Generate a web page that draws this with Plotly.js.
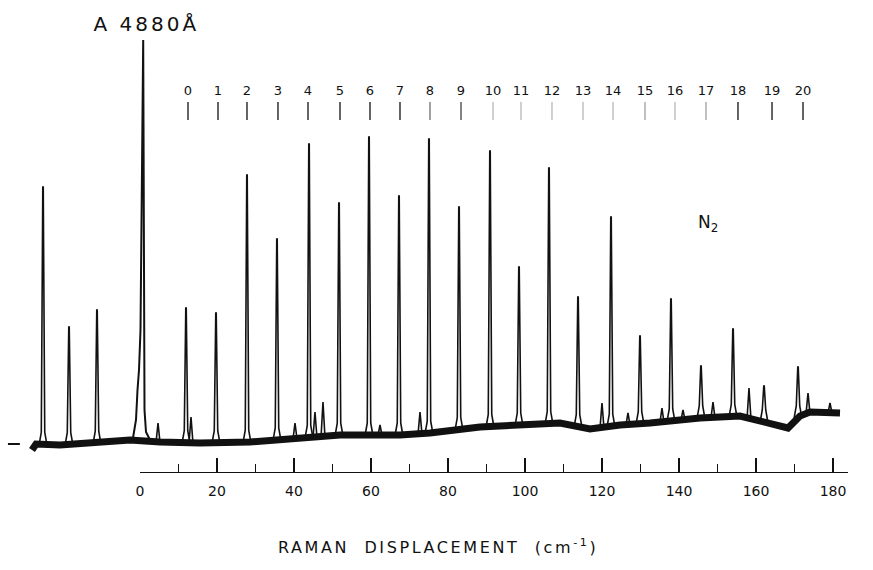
<!DOCTYPE html>
<html>
<head>
<meta charset="utf-8">
<script src="https://cdn.plot.ly/plotly-3.0.1.min.js"></script>
<style>
html,body{margin:0;padding:0;background:#fff;}
#chart{width:873px;height:570px;}
g.annotation[data-index="0"] text{letter-spacing:3px;}
g.annotation[data-index="2"] text{letter-spacing:2.6px;}
</style>
</head>
<body>
<div id="chart"></div>
<script>
// Raman displacement (cm^-1) and intensity (arbitrary units)
const baseX = [-28.05,-27.01,-20.78,-10.39,-2.60,5.19,15.58,28.57,41.56,51.95,67.53,75.32,88.31,98.70,109.09,116.88,124.68,132.47,145.45,155.84,168.31,171.43,174.03,181.82];
const baseY = [20,26,25,27,30,28,27,28,32,35,35,37,43,45,47,41,45,47,52,54,42,54,58,57];

const antiStokesX = [-25.19,-18.44,-11.17];
const antiStokesY = [283,143,160];

const stokesJ = ['0','1','2','3','4','5','6','7','8','9','10','11','12','13','14','15','16','17','18','19','20'];
const stokesX = [11.95,19.74,27.79,35.58,43.90,51.69,59.48,67.27,75.06,82.86,90.91,98.44,106.23,113.77,122.34,129.87,137.92,145.71,154.03,162.08,170.91];
const stokesY = [162,157,295,231,326,267,333,274,331,263,319,203,302,173,253,134,171,104,141,84,103];

const minorX = [4.68,13.25,40.26,45.45,47.53,62.34,72.73,120.0,126.75,135.58,141.04,148.83,158.18,173.51,179.22];
const minorY = [47,53,47,58,68,45,58,67,57,62,60,68,82,77,67];

const rayleighX = [-1.82,-1.04,-0.65,-0.26,0.13,0.47,0.68,0.75,0.83,0.91,1.04,1.17,1.56,2.60];
const rayleighY = [32,50,80,100,140,270,347,430,430,347,170,60,38,30];

const labelX = [12.47,20.26,27.79,35.84,43.64,51.95,59.74,67.53,75.32,83.38,91.69,98.96,107.01,115.06,122.86,131.17,138.96,147.01,155.32,164.16,172.21];
const labelY = 378;
const markY = 359;
const markStrength = [1,1,1,1,1,1,1,1,0.6,0.8,0.3,0.3,0.3,0.3,0.3,0.4,0.3,0.4,1,1,1];

const zeroMarkX = [-34.3,-31.2];
const zeroMarkY = [26,26];

// scale
const scaleRange = [0,183.9];

function baseAt(x){
  if (x <= baseX[0]) return baseY[0];
  for (let i=1;i<baseX.length;i++){
    if (x <= baseX[i]){
      const t=(x-baseX[i-1])/(baseX[i]-baseX[i-1]);
      return baseY[i-1]+t*(baseY[i]-baseY[i-1]);
    }
  }
  return baseY[baseY.length-1];
}

const px=[], py=[];
function addPeak(x, top, big){
  const b = baseAt(x);
  if (big){
    px.push(x-1.0,x-0.45,x-0.06,x+0.06,x+0.45,x+1.0,null);
    py.push(b,b+12,top,top,b+12,b,null);
  } else {
    px.push(x-0.5,x,x+0.5,null);
    py.push(b,top,b,null);
  }
}
antiStokesX.forEach((x,i)=>addPeak(x,antiStokesY[i],true));
stokesX.forEach((x,i)=>addPeak(x,stokesY[i],true));
minorX.forEach((x,i)=>addPeak(x,minorY[i],false));

const ink = '#111111';
const traces = [
  {x: baseX, y: baseY, type:'scatter', mode:'lines', line:{color:ink, width:7}, hoverinfo:'skip', showlegend:false},
  {x: px, y: py, type:'scatter', mode:'lines', line:{color:ink, width:1.6}, connectgaps:false, hoverinfo:'skip', showlegend:false},
  {x: rayleighX, y: rayleighY, type:'scatter', mode:'lines', line:{color:ink, width:2}, hoverinfo:'skip', showlegend:false},
  {x: zeroMarkX, y: zeroMarkY, type:'scatter', mode:'lines', line:{color:ink, width:2}, hoverinfo:'skip', showlegend:false},
  {x: labelX, y: labelX.map(()=>labelY), type:'scatter', mode:'text', text: stokesJ,
   textfont:{family:'DejaVu Sans', size:13, color:ink}, hoverinfo:'skip', showlegend:false},
  {x: labelX, y: labelX.map(()=>markY), type:'scatter', mode:'markers',
   marker:{symbol:'line-ns', size:13, opacity:markStrength, line:{color:ink, width:1.3}}, hoverinfo:'skip', showlegend:false},
  {x: scaleRange, y:[0,0], xaxis:'x2', yaxis:'y', type:'scatter', mode:'lines', line:{width:0}, hoverinfo:'skip', showlegend:false}
];

const W=873, H=570;
const layout = {
  width: W, height: H,
  margin:{l:0,r:0,t:0,b:0,pad:0},
  paper_bgcolor:'#ffffff', plot_bgcolor:'rgba(0,0,0,0)',
  font:{family:'DejaVu Sans', color:ink},
  xaxis:{domain:[0,1], range:[-140/3.85, 733/3.85], visible:false, fixedrange:true},
  yaxis:{domain:[0,1], range:[-100,470], visible:false, fixedrange:true},
  xaxis2:{domain:[140/W, 848/W], range:scaleRange, anchor:'free', position:(H-472)/H,
    showline:true, linecolor:ink, linewidth:1.2, showgrid:false, zeroline:false,
    tick0:0, dtick:20, ticks:'inside', ticklen:14, tickwidth:1.2, tickcolor:ink,
    minor:{dtick:10, ticks:'inside', ticklen:8, tickwidth:1, tickcolor:ink},
    tickfont:{family:'DejaVu Sans', size:14, color:ink}, ticklabelstandoff:6, fixedrange:true},
  annotations:[
    {xref:'paper', yref:'paper', x:146/W, y:1-24/H, xanchor:'center', yanchor:'middle', showarrow:false,
     text:'A 4880Å', font:{family:'DejaVu Sans', size:20, color:ink}},
    {xref:'paper', yref:'paper', x:708/W, y:1-223/H, xanchor:'center', yanchor:'middle', showarrow:false,
     text:'N<sub>2</sub>', font:{family:'DejaVu Sans', size:17, color:ink}},
    {xref:'paper', yref:'paper', x:438/W, y:1-546/H, xanchor:'center', yanchor:'middle', showarrow:false,
     text:'RAMAN  DISPLACEMENT  (cm<sup>-1</sup>)', font:{family:'DejaVu Sans', size:16, color:ink}}
  ]
};

Plotly.newPlot('chart', traces, layout, {staticPlot:true, displayModeBar:false});
</script>
</body>
</html>
